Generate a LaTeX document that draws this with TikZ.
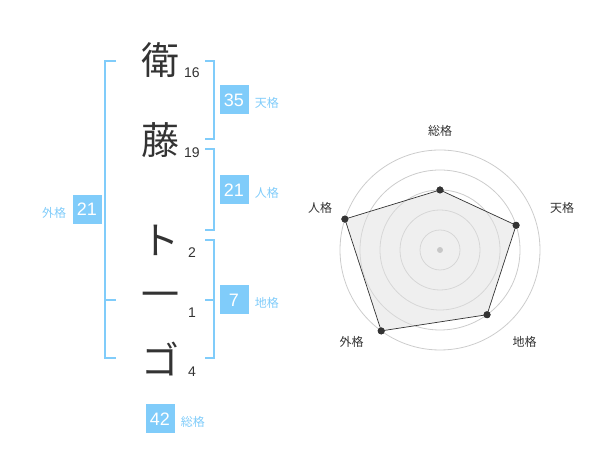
\documentclass[tikz,border=0pt]{standalone}
\usepackage{fontspec}
\setmainfont{Liberation Sans}
\newfontfamily\jpfont{Noto Sans CJK JP}
\definecolor{kaku-blue}{RGB}{128,204,250}
\definecolor{ink}{RGB}{51,51,51}

\begin{document}
\begin{tikzpicture}[x=1pt, y=1pt]
        \tikzstyle{name-char}=[text=ink, inner sep=0pt, font=\jpfont\fontsize{38}{38}\selectfont]
        \tikzstyle{stroke-count}=[text=ink, inner sep=0pt, anchor=base, font=\fontsize{14}{14}\selectfont]
        \tikzstyle{kaku-box}=[fill=kaku-blue, text=white, minimum size=29pt, inner sep=0pt, font=\fontsize{18}{18}\selectfont]
        \tikzstyle{kaku-label}=[text=kaku-blue, inner xsep=6pt, inner ysep=0pt, yshift=-3pt, font=\jpfont\fontsize{12}{12}\selectfont]
        \tikzstyle{bracket}=[draw=kaku-blue, line width=2pt]
        \tikzstyle{ring}=[draw=black!20, line width=0.8pt]
        \tikzstyle{radar-dot}=[circle, fill=ink, inner sep=0pt, minimum size=7pt]
        \tikzstyle{radar-label}=[text=ink, inner sep=0pt, font=\jpfont\fontsize{12}{12}\selectfont]

        \useasboundingbox (0, 0) rectangle (600, 470);

        % name, one character per row
        \node[name-char] (char-1) at (160, 410) {衛};
        \node[name-char] (char-2) at (160, 330) {藤};
        \node[name-char] (char-3) at (160, 230) {ト};
        \node[name-char] (char-4) at (160, 170) {一};
        \node[name-char] (char-5) at (160, 111) {ゴ};
        \node[stroke-count] (count-1) at (192, 392) {16};
        \node[stroke-count] (count-2) at (192, 312) {19};
        \node[stroke-count] (count-3) at (192, 212) {2};
        \node[stroke-count] (count-4) at (192, 152) {1};
        \node[stroke-count] (count-5) at (192, 93) {4};

        % brackets
        \draw[bracket] (116, 409) -- (105, 409) -- (105, 112) -- (116, 112);
        \draw[bracket] (105, 170) -- (116, 170);
        \draw[bracket] (205, 409) -- (214, 409) -- (214, 331) -- (205, 331);
        \draw[bracket] (205, 321) -- (214, 321) -- (214, 240) -- (205, 240);
        \draw[bracket] (205, 230) -- (214, 230) -- (214, 112) -- (205, 112);
        \draw[bracket] (205, 170) -- (214, 170);

        \node[kaku-box, label={[kaku-label]right:天格}] (tenkaku) at (234, 370) {35};
        \node[kaku-box, label={[kaku-label]right:人格}] (jinkaku) at (234, 280) {21};
        \node[kaku-box, label={[kaku-label]right:地格}] (chikaku) at (234, 170) {7};
        \node[kaku-box, label={[kaku-label]left:外格}] (gaikaku) at (87, 260.5) {21};
        \node[kaku-box, label={[kaku-label]right:総格}] (soukaku) at (160, 51) {42};

        % radar chart
        \begin{scope}[shift={(440, 220)}]
            \foreach \r in {20, 40, 60, 80, 100}
                \draw[ring] (0, 0) circle[radius=\r];
            \node[radar-dot] (sou) at (90:60) {};
            \node[radar-dot] (ten) at (18:80) {};
            \node[radar-dot] (chi) at (-54:80) {};
            \node[radar-dot] (gai) at (-126:100) {};
            \node[radar-dot] (jin) at (162:100) {};
            \filldraw[fill=black!12, fill opacity=0.5, draw=ink, line width=0.7pt]
            (sou.center) -- (ten.center) -- (chi.center) -- (gai.center) -- (jin.center) -- cycle;
            \foreach \p in {sou, ten, chi, gai, jin}
                \fill[ink] (\p) circle[radius=3.5];
            \node[circle, fill=black!22, inner sep=0pt, minimum size=6pt] (hub) at (0, 0) {};
            \node[radar-label] (label-sou) at (0, 119) {総格};
            \node[radar-label] (label-ten) at (122, 42) {天格};
            \node[radar-label] (label-chi) at (84.5, -92) {地格};
            \node[radar-label] (label-gai) at (-88.5, -92) {外格};
            \node[radar-label] (label-jin) at (-120, 42) {人格};
        \end{scope}
    \end{tikzpicture}
\end{document}
